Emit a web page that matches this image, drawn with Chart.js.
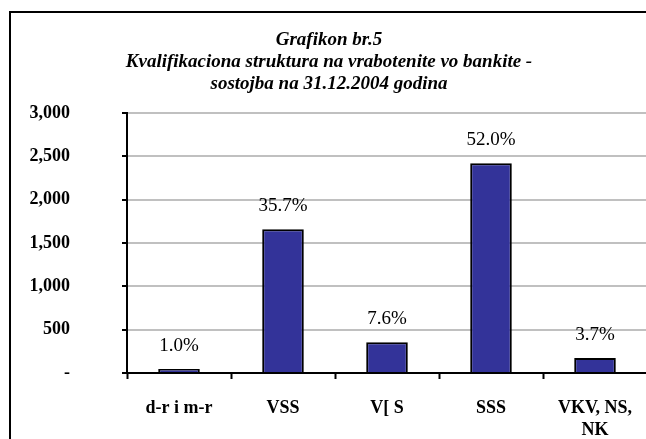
<!DOCTYPE html>
<html>
<head>
<meta charset="utf-8">
<script src="https://cdn.jsdelivr.net/npm/chart.js@4/dist/chart.umd.min.js"></script>
<style>
  html, body { margin: 0; padding: 0; background: #fff; overflow: hidden; }
  #wrap { position: absolute; left: 0; top: 0; width: 660px; height: 439px; }
</style>
</head>
<body>
<div id="wrap"><canvas id="qualChart" width="660" height="439"></canvas></div>
<script>
  // Chart data
  const categories = ["d-r i m-r", "VSS", "V[ S", "SSS", ["VKV, NS,", "NK"]];
  const employees = [45, 1660, 355, 2420, 172];
  const shares = ["1.0%", "35.7%", "7.6%", "52.0%", "3.7%"];
  const yTickValues = [0, 500, 1000, 1500, 2000, 2500, 3000];
  const yTickLabels = ["-", "500", "1,000", "1,500", "2,000", "2,500", "3,000"];
  const titleLines = [
    "Grafikon br.5",
    "Kvalifikaciona struktura na vrabotenite vo bankite -",
    "sostojba na 31.12.2004 godina",
  ];

  const serif = "'Liberation Serif', 'Times New Roman', serif";

  // black frame around the chart (left and top edges visible)
  const framePlugin = {
    id: "frame",
    beforeDraw(chart) {
      const ctx = chart.ctx;
      ctx.save();
      ctx.fillStyle = "#fff";
      ctx.fillRect(0, 0, chart.width, chart.height);
      ctx.fillStyle = "#000";
      ctx.fillRect(9, 11, 2, chart.height);
      ctx.fillRect(9, 11, chart.width, 2);
      ctx.restore();
    },
  };

  // percentage labels above bars
  const shareLabels = {
    id: "shareLabels",
    afterDatasetsDraw(chart) {
      const ctx = chart.ctx;
      const meta = chart.getDatasetMeta(0);
      ctx.save();
      ctx.font = "19px " + serif;
      ctx.fillStyle = "#000";
      ctx.textAlign = "center";
      ctx.textBaseline = "middle";
      meta.data.forEach((bar, i) => {
        ctx.fillText(shares[i], bar.x, bar.y - 23);
      });
      ctx.restore();
    },
  };

  const ctx = document.getElementById("qualChart");
  new Chart(ctx, {
    type: "bar",
    data: {
      labels: categories,
      datasets: [
        {
          data: employees,
          backgroundColor: "#333399",
          borderColor: "#000",
          borderWidth: 2,
          borderSkipped: "bottom",
          categoryPercentage: 1,
          barPercentage: 0.4,
        },
      ],
    },
    options: {
      responsive: false,
      animation: false,
      layout: { padding: { left: 11, right: 13, top: 0, bottom: 0 } },
      plugins: {
        legend: { display: false },
        tooltip: { enabled: false },
        title: {
          display: true,
          text: titleLines,
          color: "#000",
          font: { family: serif, size: 19, weight: "bold", style: "italic", lineHeight: "22px" },
          padding: { top: 29, bottom: 18 },
        },
      },
      scales: {
        x: {
          grid: {
            offset: true,
            drawOnChartArea: false,
            drawTicks: true,
            tickLength: 6,
            tickColor: "#000",
            tickWidth: 2,
          },
          border: { color: "#000", width: 2 },
          ticks: {
            color: "#000",
            padding: 18,
            maxRotation: 0,
            font: { family: serif, size: 18, weight: "bold", lineHeight: "22px" },
          },
          afterFit(scale) {
            scale.height = 66;
          },
        },
        y: {
          min: 0,
          max: 3000,
          afterBuildTicks(scale) {
            scale.ticks = yTickValues.map((v) => ({ value: v }));
          },
          grid: {
            color: "#c0c0c0",
            lineWidth: 2,
            drawTicks: true,
            tickLength: 5,
            tickColor: "#000",
            tickWidth: 2,
          },
          border: { color: "#000", width: 2 },
          ticks: {
            color: "#000",
            padding: 52,
            font: { family: serif, size: 18, weight: "bold" },
            callback: (value) => yTickLabels[yTickValues.indexOf(value)],
          },
          afterFit(scale) {
            scale.width = 116;
          },
        },
      },
    },
    plugins: [framePlugin, shareLabels],
  });
</script>
</body>
</html>
